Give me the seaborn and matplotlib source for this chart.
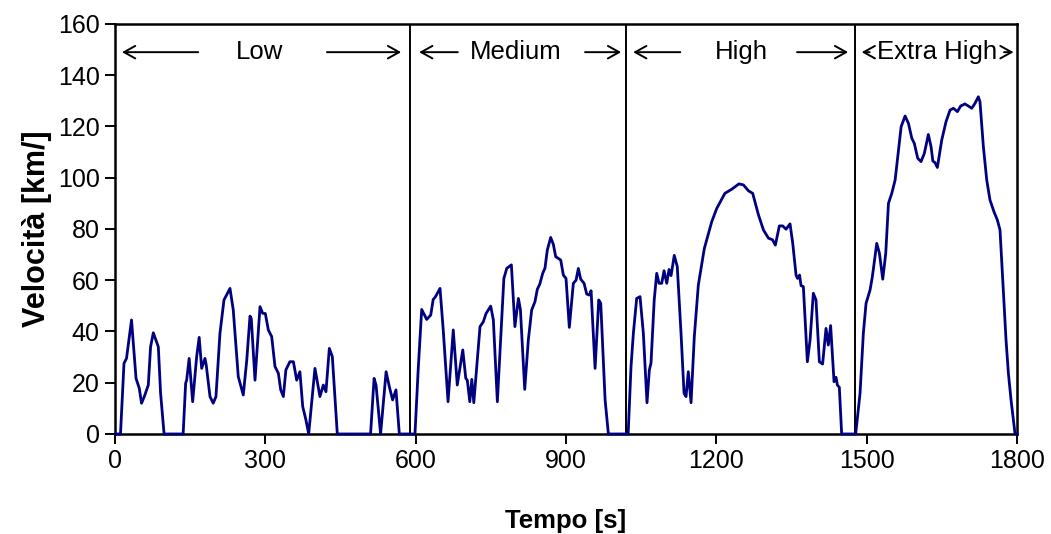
import numpy as np
import pandas as pd
import matplotlib
matplotlib.use("Agg")
import matplotlib.pyplot as plt
import seaborn as sns

# ---- data ----
time_low = [0, 11, 18, 23, 33, 42, 48.5, 53, 58.5, 66.5, 71, 76.5, 86.5, 91, 98, 136,
            141, 143, 148, 155, 163, 168, 173, 179.6, 182, 189.6, 196, 201.5, 209.5,
            217.5, 229.5, 236, 246, 256, 263, 269.4, 272, 279.4, 289.4, 294.7, 300, 306,
            312.7, 319.3, 326, 330.7, 336, 341, 349, 356, 362.6, 369, 374.6, 381, 386.5,
            399, 409, 415.7, 421, 427.7, 433.7, 443.6, 510, 517, 521, 530, 541, 547.5,
            554, 560.7, 567.4]
speed_low = [0, 0, 27.6, 29.5, 44.5, 21.7, 17.8, 12, 14.6, 19.1, 34, 39.5, 34, 15.9, 0, 0,
             19.8, 21, 29.5, 12.6, 30.2, 37.7, 25.6, 29.5, 27, 14.6, 12, 14.6, 39.3,
             52.3, 56.8, 48.4, 22.4, 15.2, 28.9, 46, 45, 21, 49.7, 47.1, 47, 40.6,
             38, 26.3, 23.7, 17.2, 14.6, 25, 28.2, 28.2, 21, 24.3, 10.7, 5.5, 0,
             25.6, 14.6, 19.1, 16.5, 33.4, 30.2, 0, 0, 21.7, 19, 0, 24.3, 18.4,
             13.3, 17.2, 0]

time_medium = [598.6, 605, 612, 622, 630, 635, 639, 648.6, 655, 664.6, 675, 683, 694, 700,
               703, 708, 712, 716, 728.4, 735, 740.4, 749.7, 755, 763, 776, 781.7, 791,
               798, 805, 809, 817.6, 824.8, 831.5, 838, 842.8, 847.7, 853.5, 858, 862.7,
               869.4, 874.7, 879.4, 884.7, 889.4, 894.7, 900, 906.6, 914.6, 920, 924.6,
               929.3, 936, 941.3, 946.6, 950, 958, 965.3, 969.3, 978, 984.5]
speed_medium = [0, 25, 48.6, 44.7, 46.4, 52.5, 53.4, 56.8, 40.6, 12.6, 40.6, 19.1, 32.8, 21.7,
                21, 12.6, 21.3, 12.2, 41.9, 43.8, 47, 49.9, 44.5, 12.6, 60.7, 64.6, 66,
                41.9, 52.9, 48.5, 17.4, 36.7, 48.4, 51.6, 56.5, 58.5, 62.7, 64.7, 71.8,
                76.7, 74, 69.2, 68.5, 67.9, 62, 60.7, 41.6, 58.8, 60, 64.6,
                60.4, 58.8, 54.6, 54.2, 55.9, 25.6, 52.3, 51, 13.3, 0]

time_high = [1024, 1029.7, 1034.4, 1041, 1047.7, 1054.3, 1061.6, 1066.3, 1069.6, 1076, 1081,
             1085.6, 1091, 1095.6, 1101, 1105.6, 1109.6, 1116, 1122, 1129.5, 1135.5, 1139.5,
             1144, 1149.5, 1156, 1164, 1176, 1190.7, 1200.7, 1217, 1230.6, 1245, 1254,
             1264, 1272.5, 1284, 1294, 1304, 1312, 1317.7, 1325.7, 1332.4, 1339, 1347,
             1352.4, 1359, 1362, 1366, 1369, 1373.6, 1381.6, 1387, 1393.5, 1398.8, 1405.5,
             1412, 1418.8, 1423.4, 1428, 1434.8, 1438.8, 1441.4, 1445.4, 1450]
speed_high = [0, 26.3, 39.3, 52.9, 53.6, 39.3, 12.2, 25, 27.7, 52.3, 62.7,
              58.8, 58.8, 63.7, 58.8, 64.2, 61.8, 69.7, 65.3, 39.3, 15.9, 14.6,
              24.3, 12.2, 38, 58.1, 72.4, 82.8, 88, 93.9, 95.5, 97.6, 97.2,
              94.9, 93.9, 85.5, 79.6, 76.4, 75.8, 73.7, 81.2, 81.2, 79.9, 82,
              74.4, 62, 60.7, 62, 57.9, 57.5, 28.2, 36.7, 54.9, 52.3, 28.2,
              27.3, 41.2, 34.7, 42.3, 20.4, 22.1, 19.1, 18.2, 0]

time_extra = [1478, 1486.7, 1493.3, 1498.7, 1506.7, 1511.3, 1520, 1525.4, 1532, 1538, 1543.4,
              1550, 1556.7, 1563.4, 1568.7, 1576.6, 1583.3, 1590, 1595, 1601.8, 1608.4,
              1615, 1623, 1628.4, 1632, 1636.3, 1641, 1649.7, 1658.3, 1666.3, 1673, 1681,
              1687.6, 1696, 1702.7, 1709.6, 1716, 1722.8, 1726, 1732.8, 1739.5, 1746,
              1754, 1760.7, 1766, 1771.5, 1778, 1782.7, 1788, 1796, 1800]
speed_extra = [0, 15.9, 39.3, 51, 56.2, 61.4, 74.4, 70.5, 60.4, 70.5, 90,
               93.9, 99.1, 110.8, 119.9, 124.1, 121.2, 115.4, 113.4, 107.6, 106.3,
               109.5, 116.9, 112.1, 106.5, 105.9, 104, 114.7, 121.9, 126.4, 127.1, 125.8,
               128, 128.8, 128, 127.1, 129, 131.6, 129.7, 112.1, 99.1, 91.3,
               86.7, 83.5, 79.6, 60.1, 36.7, 23.7, 13.3, 0, 0]

phase_names = ["Low", "Medium", "High", "Extra High"]
phase_bounds = [589, 1020, 1477]
x_ticks = [0, 300, 600, 900, 1200, 1500, 1800]
y_ticks = [0, 20, 40, 60, 80, 100, 120, 140, 160]

df = pd.DataFrame({
    "Tempo": time_low + time_medium + time_high + time_extra,
    "Velocita": speed_low + speed_medium + speed_high + speed_extra,
})

sns.set_style("ticks")
plt.rcParams["font.family"] = ["Liberation Sans", "DejaVu Sans"]

fig = plt.figure(figsize=(10.51, 5.34), dpi=100)
ax = fig.add_axes([0.1094, 0.1873, 0.8583, 0.7678])

sns.lineplot(data=df, x="Tempo", y="Velocita", estimator=None, sort=False,
             color="#000080", linewidth=2.0, ax=ax, zorder=5, clip_on=False)

for b in phase_bounds:
    ax.axvline(b, color="black", linewidth=1.4, zorder=3)

ax.set_xlim(0, 1800)
ax.set_ylim(0, 160)
ax.set_xticks(x_ticks)
ax.set_yticks(y_ticks)
ax.tick_params(axis="both", which="major", direction="out", length=7, width=1.4,
               labelsize=18, pad=4, colors="black", bottom=True, left=True)
for s in ax.spines.values():
    s.set_visible(True)
    s.set_color("black")
    s.set_linewidth(1.8)

ax.set_xlabel("Tempo [s]", fontsize=18.5, fontweight="bold", labelpad=26, color="black")
ax.set_ylabel("Velocità [km/]", fontsize=22, fontweight="bold", labelpad=4, color="black")

# phase annotations
ya = 149
arrow_kw = dict(arrowstyle="->,head_length=0.45,head_width=0.25", lw=1.4,
                color="black", shrinkA=0, shrinkB=0, mutation_scale=18)
arrows = [  # (tail, head)
    (166, 14), (423, 571),
    (684, 607), (938, 1010),
    (1128, 1034), (1361, 1463),
    (1506, 1490), (1774, 1793),
]
for tail, head in arrows:
    ax.annotate("", xy=(head, ya), xytext=(tail, ya), arrowprops=arrow_kw)

label_x = [289, 800, 1249, 1640]
for name, xc in zip(phase_names, label_x):
    ax.text(xc, ya, name, ha="center", va="center", fontsize=18.5, color="black")

fig.savefig("out.png", dpi=100)
